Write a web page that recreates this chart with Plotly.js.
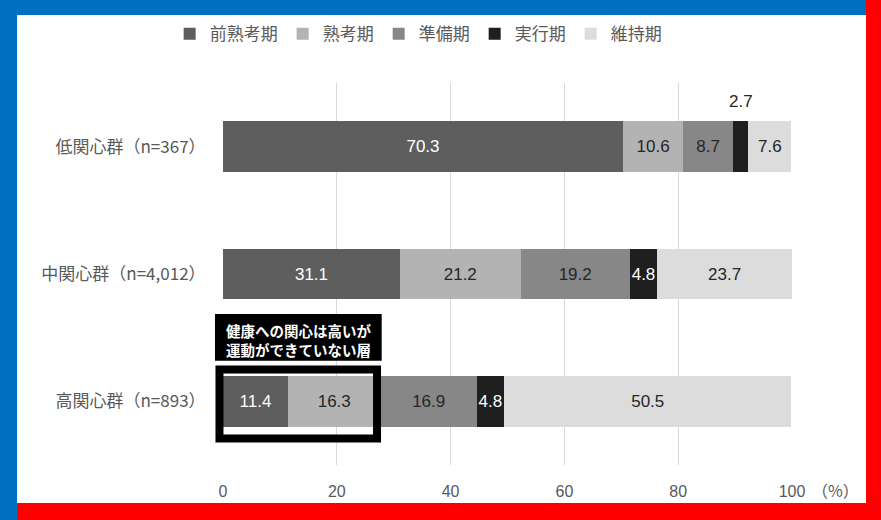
<!DOCTYPE html>
<html>
<head>
<meta charset="utf-8">
<script src="https://cdn.plot.ly/plotly-3.0.1.min.js"></script>
<style>
    html, body { margin: 0; padding: 0; background: #fff; }
    #wrap { position: relative; width: 881px; height: 520px; overflow: hidden; }
    #chart { position: absolute; left: 0; top: 0; width: 881px; height: 520px; }
    .band { position: absolute; pointer-events: none; }
</style>
</head>
<body>
<div id="wrap">
    <div id="chart"></div>
    <!-- frame bands -->
    <div class="band" style="left:0;top:0;width:866px;height:15px;background:#0070c0"></div>
    <div class="band" style="left:0;top:0;width:17px;height:520px;background:#0070c0"></div>
    <div class="band" style="left:866px;top:0;width:15px;height:520px;background:#ff0000"></div>
    <div class="band" style="left:17px;top:503px;width:864px;height:17px;background:#ff0000"></div>
</div>
<script>
// Data
const groups = ['低関心群（n=367）', '中関心群（n=4,012）', '高関心群（n=893）'];
const stages = ['前熟考期', '熟考期', '準備期', '実行期', '維持期'];
const precontemplation = [70.3, 31.1, 11.4];
const contemplation = [10.6, 21.2, 16.3];
const preparation = [8.7, 19.2, 16.9];
const action = [2.7, 4.8, 4.8];
const maintenance = [7.6, 23.7, 50.5];
const xTicks = [0, 20, 40, 60, 80, 100];
const noteLines = ['健康への関心は高いが', '運動ができていない層'];

// Styles
const stageColors = ['#5e5e5e', '#b3b3b3', '#878787', '#1f1f1f', '#dcdcdc'];
const labelColors = ['#ffffff', '#262626', '#262626', '#ffffff', '#262626'];
const jpFont = '"Noto Sans CJK JP", "Noto Sans", sans-serif';
const numFont = '"Liberation Sans", Arial, sans-serif';

const series = [precontemplation, contemplation, preparation, action, maintenance];
const outsideLimit = 3; // values narrower than this get their label above the bar

const traces = series.map((vals, i) => ({
    type: 'bar',
    orientation: 'h',
    name: stages[i],
    y: groups,
    x: vals,
    marker: { color: stageColors[i] },
    text: vals.map(v => v < outsideLimit ? '' : v.toFixed(1)),
    textposition: 'inside',
    insidetextanchor: 'middle',
    textangle: 0,
    textfont: { family: numFont, size: 17, color: labelColors[i] },
    hoverinfo: 'skip'
}));

// labels for narrow segments, placed above the bar
const annotations = [];
groups.forEach((g, gi) => {
    let start = 0;
    series.forEach((vals) => {
        const v = vals[gi];
        if (v < outsideLimit) {
            annotations.push({
                x: start + v / 2, y: g, xref: 'x', yref: 'y',
                text: v.toFixed(1), showarrow: false,
                yanchor: 'middle', yshift: 45,
                font: { family: numFont, size: 17, color: '#262626' }
            });
        }
        start += v;
    });
});

// unit label
annotations.push({
    x: 100, y: 0, xref: 'x', yref: 'paper',
    text: '（%）', showarrow: false,
    xanchor: 'center', yanchor: 'middle', xshift: 43, yshift: -25,
    font: { family: jpFont, size: 16, color: '#595959' }
});

// callout text, one annotation per line
noteLines.forEach((line, li) => {
    annotations.push({
        x: 0.1323, y: 0.3516 - li * 0.048, xref: 'paper', yref: 'paper',
        text: '<b>' + line + '</b>', showarrow: false,
        xanchor: 'center', yanchor: 'middle',
        font: { family: jpFont, size: 14.5, color: '#ffffff' }
    });
});

const shapes = [
    // black callout box
    { type: 'rect', xref: 'paper', yref: 'paper', x0: -0.0141, x1: 0.2789, y0: 0.2730, y1: 0.3953,
      fillcolor: '#000000', line: { width: 0 }, layer: 'above' },
    // highlight frame around the first two segments
    { type: 'rect', xref: 'paper', yref: 'paper', x0: -0.0062, x1: 0.2707, y0: 0.0694, y1: 0.25,
      fillcolor: 'rgba(0,0,0,0)', line: { color: '#000000', width: 8 }, layer: 'above' }
];

const layout = {
    width: 881,
    height: 520,
    paper_bgcolor: '#ffffff',
    plot_bgcolor: '#ffffff',
    barmode: 'stack',
    bargap: 0.6,
    margin: { l: 223, r: 89, t: 83, b: 55 },
    font: { family: jpFont, color: '#595959' },
    uniformtext: { minsize: 17, mode: 'show' },
    showlegend: true,
    legend: {
        orientation: 'h',
        x: 0.343, xanchor: 'center',
        y: 1.128, yanchor: 'middle',
        font: { family: jpFont, size: 17, color: '#595959' },
        itemwidth: 30,
        traceorder: 'normal',
        itemclick: false, itemdoubleclick: false
    },
    xaxis: {
        range: [0, 100],
        tickvals: xTicks,
        ticktext: xTicks.map(String),
        showgrid: true,
        gridcolor: '#d9d9d9',
        gridwidth: 1,
        zeroline: false,
        showline: false,
        ticks: 'outside',
        ticklen: 12,
        tickcolor: 'rgba(0,0,0,0)',
        tickfont: { family: numFont, size: 16, color: '#595959' },
        fixedrange: true
    },
    yaxis: {
        autorange: 'reversed',
        showgrid: false,
        zeroline: false,
        showline: false,
        ticks: 'outside',
        ticklen: 13,
        tickcolor: 'rgba(0,0,0,0)',
        tickfont: { family: jpFont, size: 17, color: '#595959' },
        fixedrange: true
    },
    annotations: annotations,
    shapes: shapes
};

Plotly.newPlot('chart', traces, layout, { displayModeBar: false, staticPlot: true });
</script>
</body>
</html>
